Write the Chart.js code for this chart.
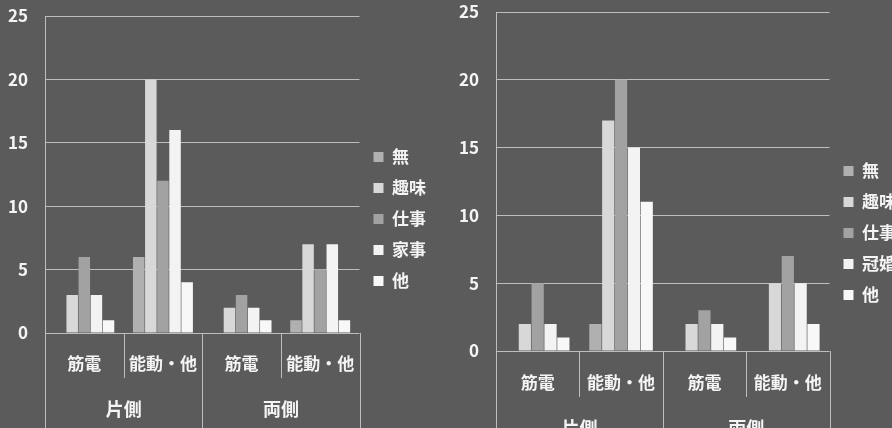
<!DOCTYPE html>
<html>
<head>
<meta charset="utf-8">
<script src="https://cdn.jsdelivr.net/npm/chart.js@4/dist/chart.umd.min.js"></script>
<style>
  html, body { margin: 0; padding: 0; width: 892px; height: 428px; overflow: hidden; background: #5b5b5b; }
  #c1 { position: absolute; left: 0; top: 0; }
  #c2 { position: absolute; left: 446px; top: 0; }
</style>
</head>
<body>
<canvas id="c1" width="446" height="428"></canvas>
<canvas id="c2" width="500" height="466"></canvas>
<script>
// Category labels (inner level and outer group level)
const subLabels = ['筋電', '能動・他', '筋電', '能動・他'];
const groupLabels = ['片側', '両側'];
const yMin = 0, yMax = 25, yStep = 5;

// Left chart series
const leftNames  = ['無', '趣味', '仕事', '家事', '他'];
const leftNone   = [0, 6, 0, 1];
const leftHobby  = [3, 20, 2, 7];
const leftWork   = [6, 12, 3, 5];
const leftHouse  = [3, 16, 2, 7];
const leftOther  = [1, 4, 1, 1];

// Right chart series
const rightNames    = ['無', '趣味', '仕事', '冠婚葬祭', '他'];
const rightNone     = [0, 2, 0, 0];
const rightHobby    = [2, 17, 2, 5];
const rightWork     = [5, 20, 3, 7];
const rightCeremony = [2, 15, 2, 5];
const rightOther    = [1, 11, 1, 2];

const barColors = ['#b0b0b0', '#d8d8d8', '#a2a2a2', '#f3f3f3', '#f8f8f8'];
const textColor = '#f4f4f4';
const gridColor = '#bdbdbd';
const FONT = "'Noto Sans CJK JP', 'Noto Sans', sans-serif";

// Draws the category dividers of the two-level axis:
// short ones between inner labels, long ones at group edges.
const dividerLines = {
  id: 'dividerLines',
  afterDraw(chart) {
    const xs = chart.scales.x;
    const ctx = chart.ctx;
    const n = xs.getLabels().length;
    const bounds = [];
    for (let i = 0; i <= n; i++) {
      let px;
      if (i === 0) px = xs.left;
      else if (i === n) px = xs.right;
      else px = (xs.getPixelForValue(i - 1) + xs.getPixelForValue(i)) / 2;
      bounds.push(px);
    }
    ctx.save();
    ctx.strokeStyle = gridColor;
    ctx.lineWidth = 1;
    bounds.forEach((px, i) => {
      const x = Math.round(px) + 0.5;
      const isGroupEdge = (i % 2 === 0);
      ctx.beginPath();
      ctx.moveTo(x, chart.chartArea.bottom);
      ctx.lineTo(x, isGroupEdge ? chart.height : xs.bottom);
      ctx.stroke();
    });
    ctx.restore();
  }
};

function makeDatasets(names, series) {
  return names.map((name, i) => ({
    label: name,
    data: series[i],
    backgroundColor: barColors[i],
    borderWidth: 0,
    categoryPercentage: 0.77,
    barPercentage: 0.95
  }));
}

function makeChart(canvasId, names, series, geo) {
  return new Chart(document.getElementById(canvasId), {
    type: 'bar',
    data: { labels: subLabels, datasets: makeDatasets(names, series) },
    plugins: [dividerLines],
    options: {
      responsive: false,
      animation: false,
      layout: { padding: { top: geo.padTop, right: geo.padRight, bottom: geo.padBottom, left: 0 } },
      plugins: {
        tooltip: { enabled: false },
        legend: {
          position: 'right',
          labels: {
            color: textColor,
            boxWidth: 10,
            boxHeight: 10,
            padding: 14,
            font: { family: FONT, size: 17, weight: 'bold' }
          }
        }
      },
      scales: {
        y: {
          min: yMin, max: yMax,
          ticks: { stepSize: yStep, color: textColor, padding: 0, font: { family: FONT, size: 17, weight: 'bold' } },
          grid: { color: gridColor, lineWidth: 1, drawTicks: true, tickLength: 17, tickColor: 'rgba(0,0,0,0)' },
          border: { display: true, color: gridColor, width: 1 },
          afterFit: s => { s.width = geo.yWidth; }
        },
        x: {
          weight: 1,
          offset: true,
          grid: { display: false, drawTicks: false },
          border: { display: false },
          ticks: { color: textColor, padding: geo.subPad, autoSkip: false, maxRotation: 0, font: { family: FONT, size: 17, weight: 'bold' } },
          afterFit: s => { s.height = geo.subHeight; }
        },
        x2: {
          type: 'category',
          position: 'bottom',
          weight: 2,
          labels: groupLabels,
          offset: true,
          grid: { display: false, drawTicks: false },
          border: { display: false },
          ticks: { color: textColor, padding: geo.groupPad, autoSkip: false, maxRotation: 0, font: { family: FONT, size: 18, weight: 'bold' } },
          afterFit: s => { s.height = geo.groupHeight; }
        }
      }
    }
  });
}

makeChart('c1', leftNames, [leftNone, leftHobby, leftWork, leftHouse, leftOther], {
  padTop: 16, padRight: 10, padBottom: 6,
  yWidth: 45, subPad: 20, subHeight: 45, groupPad: 20, groupHeight: 44
});

makeChart('c2', rightNames, [rightNone, rightHobby, rightWork, rightCeremony, rightOther], {
  padTop: 12, padRight: 6, padBottom: 12,
  yWidth: 50, subPad: 21, subHeight: 46, groupPad: 20, groupHeight: 57
});
</script>
</body>
</html>
